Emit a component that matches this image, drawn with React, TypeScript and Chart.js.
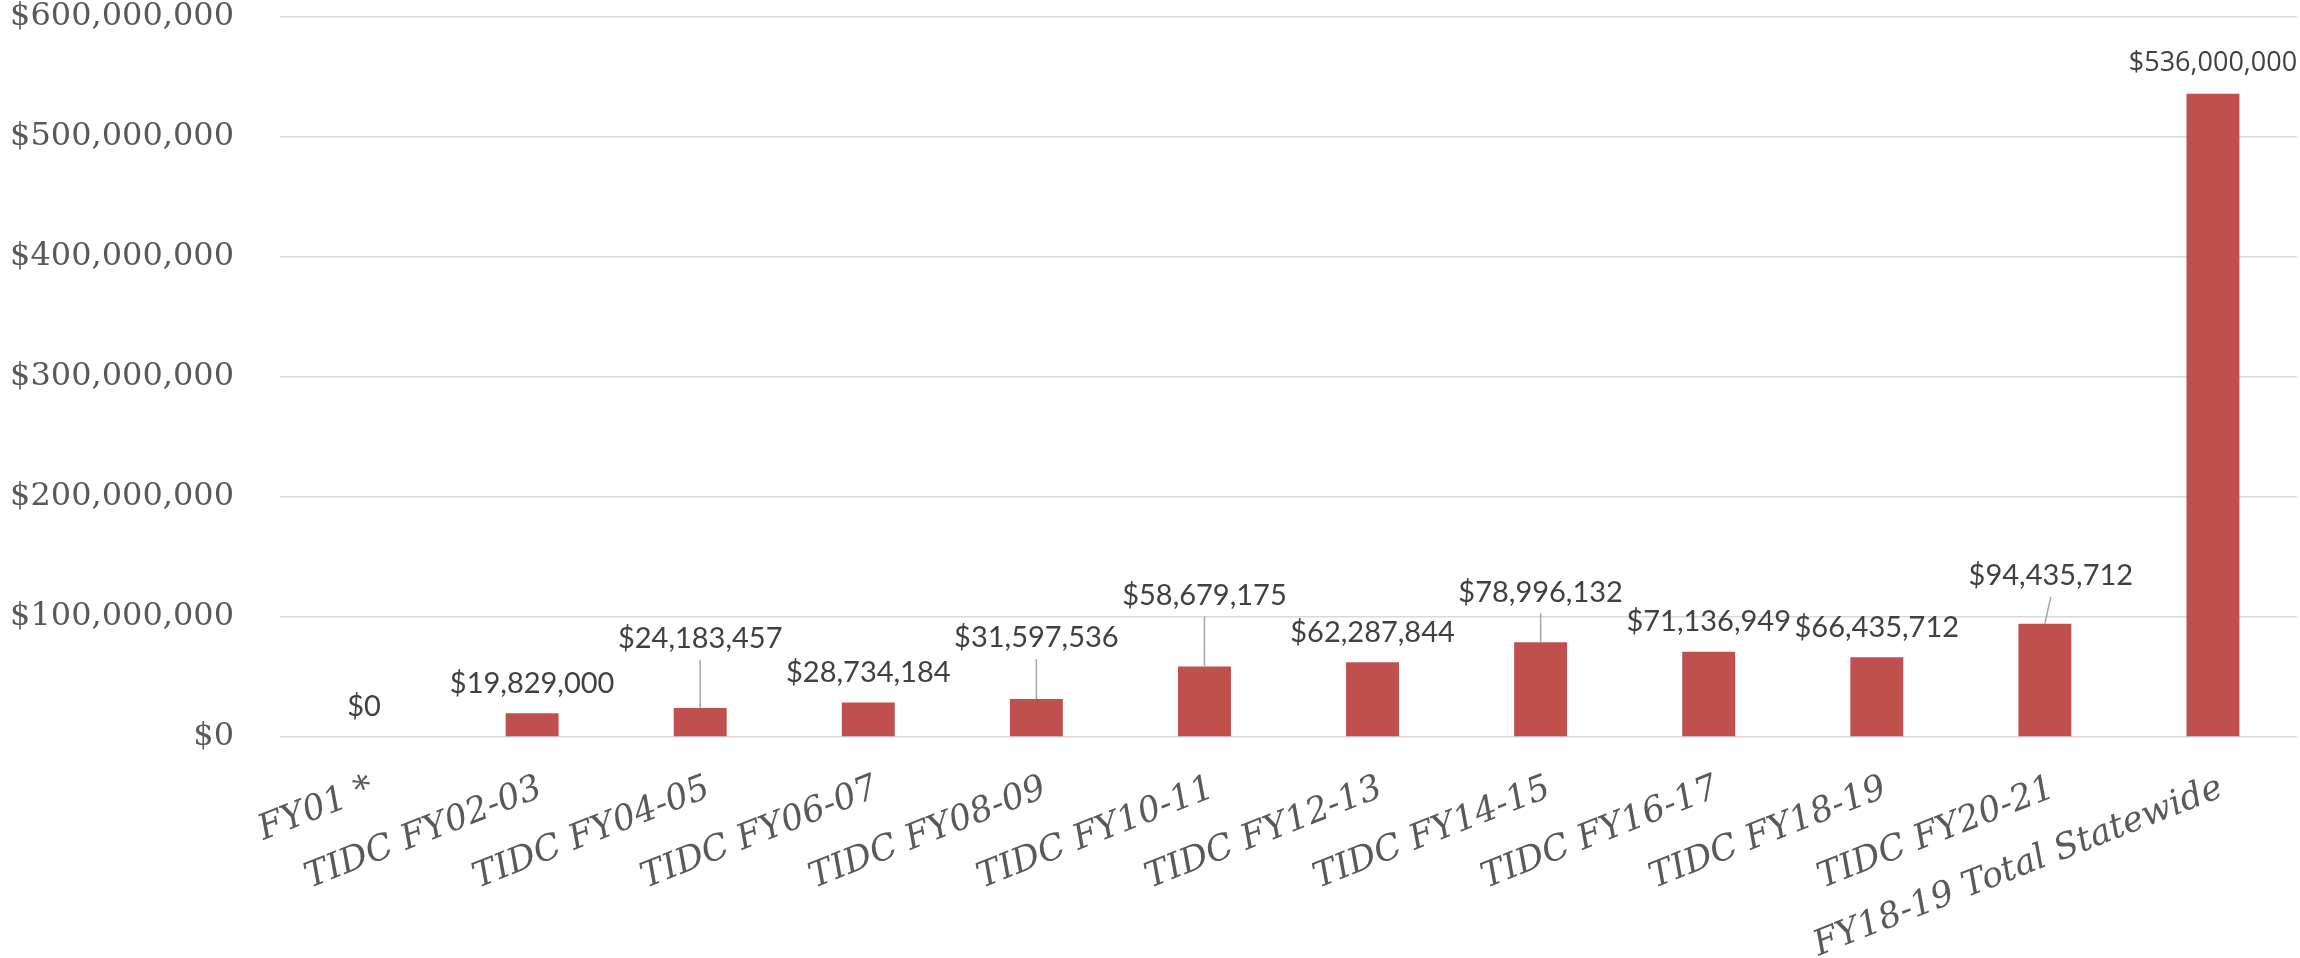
import React, { useEffect, useRef } from 'react';
import { Chart, registerables } from 'chart.js';

Chart.register(...registerables);

const categories = [
  'FY01 *',
  'TIDC FY02-03',
  'TIDC FY04-05',
  'TIDC FY06-07',
  'TIDC FY08-09',
  'TIDC FY10-11',
  'TIDC FY12-13',
  'TIDC FY14-15',
  'TIDC FY16-17',
  'TIDC FY18-19',
  'TIDC FY20-21',
  'FY18-19 Total Statewide',
];

const funding = [
  0, 19829000, 24183457, 28734184, 31597536, 58679175, 62287844, 78996132,
  71136949, 66435712, 94435712, 536000000,
];

const yMin = 0;
const yMax = 600000000;
const yStep = 100000000;

// label layout (pixels), not data
const labelLift = [0, 0, 39, 0, 31, 41, 0, 20, 0, 0, 18, 0];
const labelShiftX = [0, 0, 0, 0, 0, 0, 0, 0, 0, 0, 6, 0];

const fmt = (v: number) => '$' + Math.round(v).toLocaleString('en-US');

const labelPlugin = {
  id: 'barLabels',
  afterDatasetsDraw(chart: any) {
    const ctx = chart.ctx;
    const meta = chart.getDatasetMeta(0);
    ctx.save();
    meta.data.forEach((bar: any, i: number) => {
      const lift = labelLift[i];
      const cx = bar.x + labelShiftX[i];
      const cy = bar.y - 30 - lift;
      if (lift > 0) {
        ctx.strokeStyle = '#a6a6a6';
        ctx.lineWidth = 1.5;
        ctx.beginPath();
        ctx.moveTo(cx, cy + 21);
        ctx.lineTo(bar.x, bar.y);
        ctx.stroke();
      }
      ctx.font = i === funding.length - 1 ? '27px "Open Sans"' : '29px Lato';
      ctx.fillStyle = '#404040';
      ctx.textAlign = 'center';
      ctx.textBaseline = 'middle';
      ctx.fillText(fmt(funding[i]), cx, cy);
    });
    ctx.restore();
  },
};

const xLabelPlugin = {
  id: 'xLabels',
  afterDraw(chart: any) {
    const ctx = chart.ctx;
    const xs = chart.scales.x;
    const y0 = chart.chartArea.bottom + 34;
    ctx.save();
    ctx.font = 'italic 35px "DejaVu Serif"';
    ctx.fillStyle = '#595959';
    ctx.textAlign = 'right';
    ctx.textBaseline = 'top';
    categories.forEach((c, i) => {
      const x = xs.getPixelForValue(i);
      ctx.save();
      ctx.translate(x + 2, y0);
      ctx.rotate((-21.5 * Math.PI) / 180);
      ctx.fillText(c, 0, 0);
      ctx.restore();
    });
    ctx.restore();
  },
};

export default function App() {
  const ref = useRef<HTMLCanvasElement | null>(null);
  useEffect(() => {
    if (!ref.current) return;
    const chart = new Chart(ref.current, {
      type: 'bar',
      data: {
        labels: categories,
        datasets: [
          {
            data: funding,
            backgroundColor: '#C0504D',
            borderWidth: 0,
            categoryPercentage: 1,
            barPercentage: 0.315,
          },
        ],
      },
      options: {
        animation: false,
        responsive: false,
        layout: { padding: { top: 17, right: 3, left: 0, bottom: 0 } },
        plugins: { legend: { display: false }, tooltip: { enabled: false } },
        scales: {
          x: {
            grid: { display: false, drawTicks: false },
            border: { display: false },
            ticks: { display: false },
            afterFit: (s: any) => {
              s.height = 958 - 737;
              s.paddingLeft = 0;
              s.paddingRight = 0;
            },
          },
          y: {
            min: yMin,
            max: yMax,
            afterFit: (s: any) => {
              s.width = 280;
              s.paddingTop = 0;
              s.paddingBottom = 0;
            },
            grid: { color: '#d9d9d9', lineWidth: 1.5, drawTicks: false },
            border: { display: false },
            ticks: {
              stepSize: yStep,
              padding: 46,
              color: '#595959',
              font: { family: '"DejaVu Serif"', size: 32 },
              callback: (v: any) => fmt(Number(v)),
            },
          },
        },
      },
      plugins: [labelPlugin, xLabelPlugin],
    });
    return () => chart.destroy();
  }, []);
  return (
    <div style={{ position: 'absolute', left: 0, top: 0, width: 2300, height: 958 }}>
      <canvas ref={ref} width={2300} height={958} style={{ display: 'block' }} />
    </div>
  );
}
